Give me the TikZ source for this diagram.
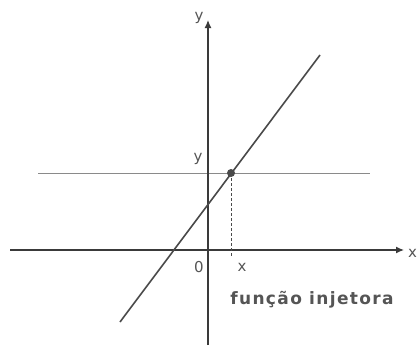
\documentclass[tikz,border=0pt]{standalone}
\usepackage{fontspec}
\setmainfont{DejaVu Sans}
\newfontfamily\titfont[LetterSpace=8]{DejaVu Sans}
\usepackage{xcolor}
\usetikzlibrary{arrows.meta}
\definecolor{eixo}{HTML}{3A3A3A}
\definecolor{reta}{HTML}{4A4A4A}
\definecolor{guia}{HTML}{8A8A8A}
\definecolor{rotulo}{HTML}{555555}
\tikzset{
  lbl/.style={text=rotulo, font=\fontsize{15}{15}\selectfont, inner sep=0pt},
}

\begin{document}
\begin{tikzpicture}[x=1pt, y=-1pt]
\useasboundingbox (0,0) rectangle (418,348);
\coordinate (xa) at (10,250);
\coordinate (xb) at (404,250);
\coordinate (ya) at (208,345);
\coordinate (yb) at (208,20);
\coordinate (ha) at (38,173);
\coordinate (hb) at (370,173);
\coordinate (ra) at (120,322);
\coordinate (rb) at (320,55);
\coordinate (p) at (231,173);
\coordinate (px) at (231,257);
\draw[guia, line width=1pt] (ha) -- (hb);
\draw[eixo, line width=1.2pt, -{Latex[length=8pt,width=7pt]}] (xa) -- (xb);
\draw[eixo, line width=1.2pt, -{Latex[length=8pt,width=7pt]}] (ya) -- (yb);
\draw[reta, line width=1.6pt] (ra) -- (rb);
\draw[reta, densely dashed, line width=0.8pt] (p) -- (px);
\fill[reta] (p) circle (4pt);
\node[lbl] (ny) at (199,18) {y};
\node[lbl, anchor=west] (nx) at (408,253) {x};
\node[lbl] (nyv) at (198,159) {y};
\node[lbl] (n0) at (199,267) {0};
\node[lbl] (nxv) at (242,267) {x};
\node[lbl, anchor=base, font=\titfont\bfseries\fontsize{17}{17}\selectfont] (tit) at (312,304) {função injetora};
\end{tikzpicture}
\end{document}
